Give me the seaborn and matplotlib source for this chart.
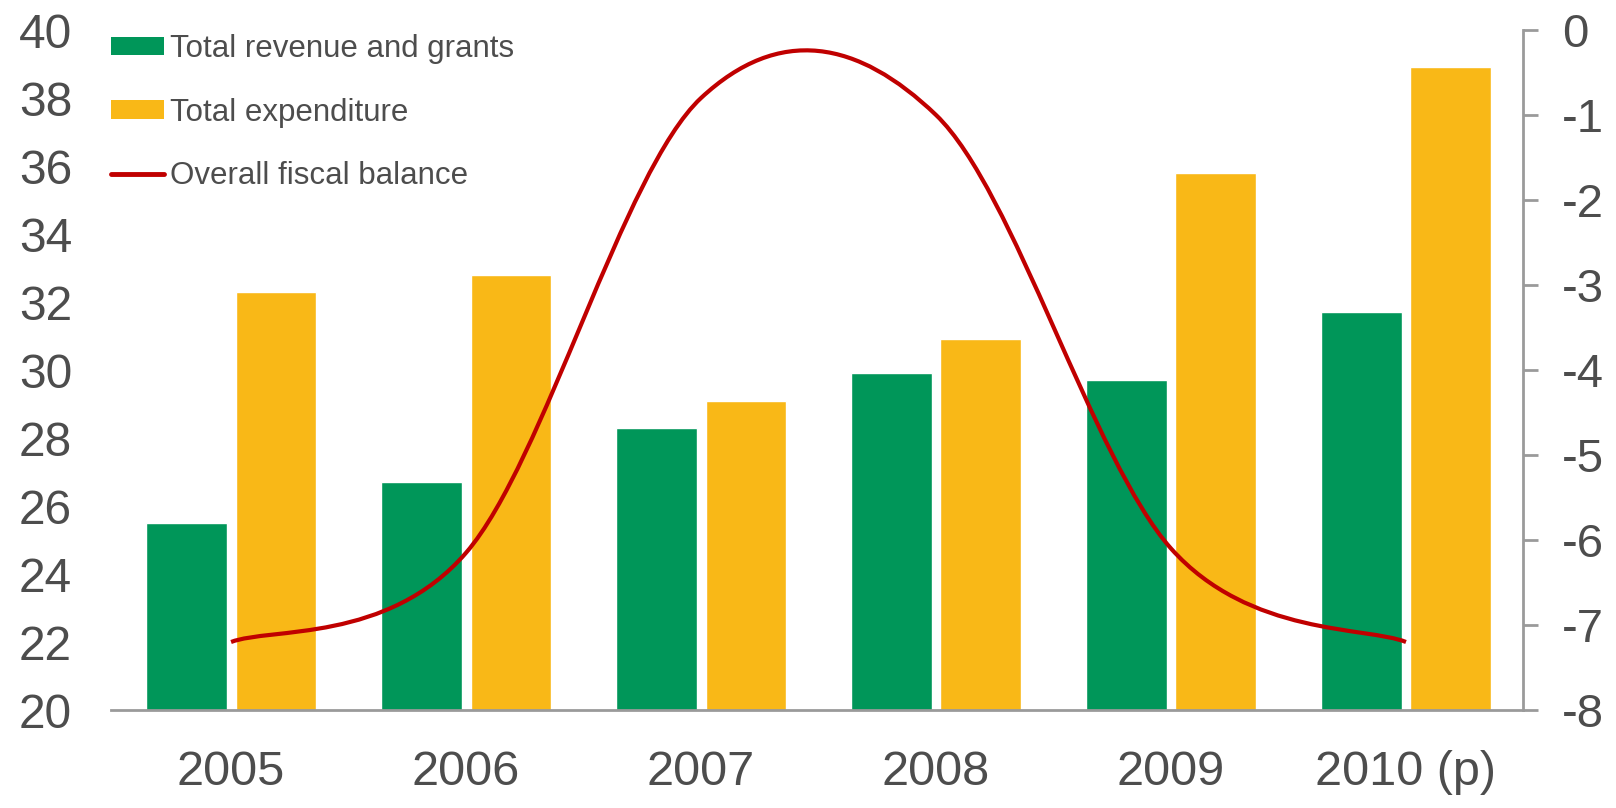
import numpy as np
import pandas as pd
import matplotlib
matplotlib.use("Agg")
import matplotlib.pyplot as plt
import seaborn as sns
from matplotlib import font_manager
from matplotlib.path import Path
from matplotlib.patches import PathPatch, Patch
from matplotlib.lines import Line2D

# data
years = ["2005", "2006", "2007", "2008", "2009", "2010 (p)"]
revenue = [25.5, 26.7, 28.3, 29.9, 29.7, 31.7]
expenditure = [32.3, 32.8, 29.1, 30.9, 35.8, 38.9]
balance = [-7.2, -6.15, -0.8, -1.0, -6.1, -7.2]

left_ticks = list(range(20, 41, 2))
right_ticks = list(range(-8, 1))

GREEN = "#009659"
ORANGE = "#F9B817"
RED = "#C00000"
TEXT = "#4d4d4d"
AXIS = "#9a9a9a"

sns.set_style("white")
plt.rcParams["font.family"] = ["Liberation Sans", "DejaVu Sans"]
plt.rcParams["axes.unicode_minus"] = False

names = {f.name for f in font_manager.fontManager.ttflist}
if "Liberation Sans Narrow" in names:
    xfont, xsize = "Liberation Sans Narrow", 43
else:
    xfont, xsize = "Liberation Sans", 35

df = pd.DataFrame({
    "year": years * 2,
    "series": ["Total revenue and grants"] * len(years) + ["Total expenditure"] * len(years),
    "value": revenue + expenditure,
})

fig = plt.figure(figsize=(16.16, 8.08), dpi=100)
ax = fig.add_axes([111 / 1616, 1 - 710 / 808, (1523 - 111) / 1616, 680 / 808])

sns.barplot(data=df, x="year", y="value", hue="series",
            palette={"Total revenue and grants": GREEN, "Total expenditure": ORANGE},
            width=0.76, gap=0.1, saturation=1, legend=False, ax=ax)

ax.set_ylim(20, 40)
ax.set_yticks(left_ticks)
ax.set_xlim(-0.511, 5.498)
ax.set_xlabel("")
ax.set_ylabel("")
for s in ["left", "top", "right"]:
    ax.spines[s].set_visible(False)
ax.spines["bottom"].set_color(AXIS)
ax.spines["bottom"].set_linewidth(2)
ax.tick_params(axis="y", length=0, pad=28, labelsize=34.5, labelcolor=TEXT)
ax.tick_params(axis="x", length=0, pad=29, labelcolor=TEXT)
for lab in ax.get_xticklabels():
    lab.set_fontfamily(xfont)
    lab.set_fontsize(xsize)

ax2 = ax.twinx()
ax2.set_ylim(-8, 0)
ax2.set_yticks(right_ticks)
for s in ["left", "top", "bottom"]:
    ax2.spines[s].set_visible(False)
ax2.spines["right"].set_color(AXIS)
ax2.spines["right"].set_linewidth(2)
ax2.tick_params(axis="y", length=11, width=2, color=AXIS, pad=17,
                labelsize=34, labelcolor=TEXT)

# smooth line (Catmull-Rom as bezier segments, like a spreadsheet smoothed line)
pts = np.column_stack([np.arange(len(balance)), balance]).astype(float)
ext = np.vstack([pts[0], pts, pts[-1]])
verts = [pts[0]]
codes = [Path.MOVETO]
for i in range(len(pts) - 1):
    p0, p1, p2, p3 = ext[i], ext[i + 1], ext[i + 2], ext[i + 3]
    verts += [p1 + (p2 - p0) / 6, p2 - (p3 - p1) / 6, p2]
    codes += [Path.CURVE4] * 3
ax2.add_patch(PathPatch(Path(verts, codes), fill=False, edgecolor=RED,
                        lw=3, capstyle="butt"))

handles = [
    Patch(facecolor=GREEN, edgecolor="none"),
    Patch(facecolor=ORANGE, edgecolor="none"),
    Line2D([], [], color=RED, lw=3.5),
]
labels = ["Total revenue and grants", "Total expenditure", "Overall fiscal balance"]
ax2.legend(handles, labels, loc="upper left", bbox_to_anchor=(0.0, 0.994),
           frameon=False, fontsize=22.5, borderpad=0, borderaxespad=0,
           handlelength=1.68, handleheight=0.55, handletextpad=0.22,
           labelspacing=1.07, labelcolor=TEXT)

fig.savefig("out.png", dpi=100)
